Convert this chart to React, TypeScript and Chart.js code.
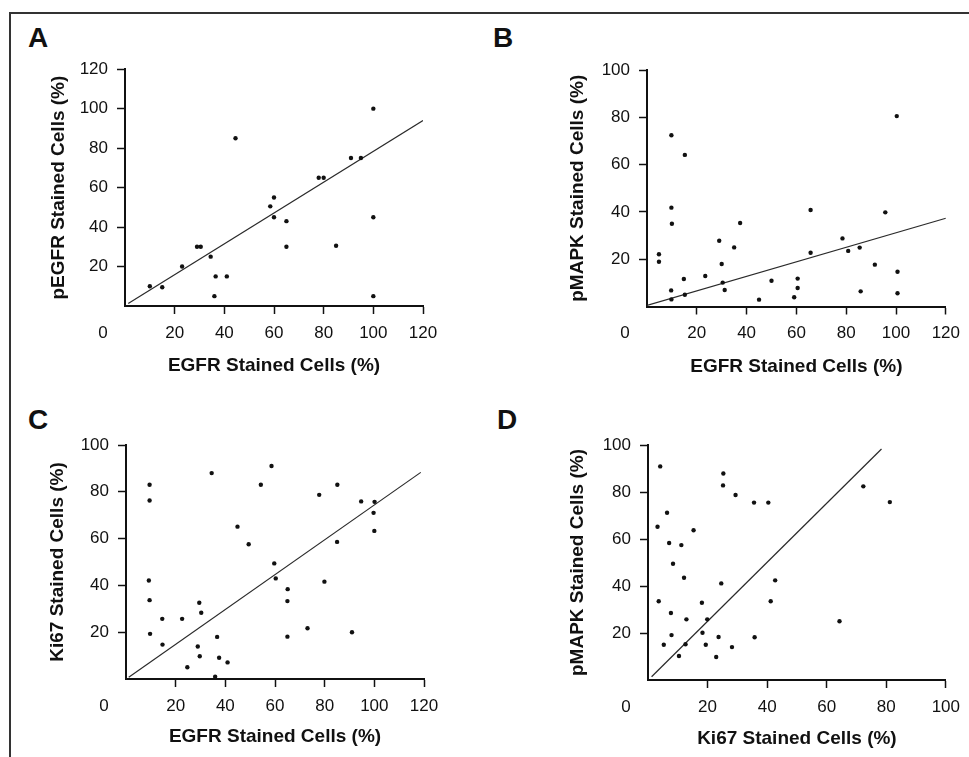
import React, { useEffect, useRef } from 'react';
import { Chart, registerables } from 'chart.js';

Chart.register(...registerables);

// ---------- DATA ----------
// Panel A: EGFR vs pEGFR
const egfrA = [10, 15, 23, 29, 30.5, 34.5, 36.5, 41, 36, 44.5, 58.5, 60, 60, 65, 65, 78, 80, 85, 91, 95, 100, 100, 100];
const pegfrA = [10, 9.5, 20, 30, 30, 25, 15, 15, 5, 85, 50.5, 55, 45, 43, 30, 65, 65, 30.5, 75, 75, 100, 45, 5];
const fitAX = [1.3, 120];
const fitAY = [1.3, 94];

// Panel B: EGFR vs pMAPK
const egfrB = [4.8, 4.8, 9.8, 9.8, 10, 9.7, 9.8, 15.2, 14.8, 15.2, 23.4, 29, 30, 30.4, 31.2, 35, 37.4, 45, 50, 59.1, 60.5, 60.5, 65.7, 65.7, 78.5, 80.8, 85.4, 85.8, 91.5, 95.7, 100.3, 100.6, 100.6];
const pmapkB = [22.1, 18.9, 72.4, 41.8, 35, 6.8, 3, 64.1, 11.6, 5, 12.9, 27.8, 18, 10.1, 7, 25, 35.3, 2.9, 10.9, 3.9, 11.8, 7.8, 40.8, 22.7, 28.8, 23.5, 24.9, 6.4, 17.7, 39.8, 80.5, 14.7, 5.6];
const fitBX = [0, 120];
const fitBY = [0.5, 37.3];

// Panel C: EGFR vs Ki67
const egfrC = [9.5, 9.5, 9.2, 9.5, 9.7, 14.6, 14.7, 22.6, 24.7, 28.9, 29.5, 29.7, 30.3, 34.5, 35.9, 36.7, 37.5, 40.9, 44.9, 49.4, 54.3, 58.6, 59.7, 60.3, 65.1, 65, 65, 73.1, 77.8, 79.9, 85.1, 85, 91, 94.7, 100.1, 99.7, 100];
const ki67C = [83, 76.3, 42.1, 33.7, 19.3, 25.7, 14.7, 25.7, 5, 13.9, 32.6, 9.7, 28.3, 88, 1, 18, 9.1, 7.1, 65.1, 57.6, 83, 91, 49.4, 43, 38.4, 33.3, 18.1, 21.7, 78.7, 41.6, 83, 58.6, 20, 75.9, 75.7, 71, 63.3];
const fitCX = [1.1, 118.7];
const fitCY = [0.7, 88.3];

// Panel D: Ki67 vs pMAPK
const ki67D = [4.1, 3.2, 3.6, 5.3, 6.4, 7.1, 7.7, 7.9, 8.4, 10.4, 11.2, 12.1, 12.6, 12.9, 15.3, 18.1, 18.3, 19.4, 19.9, 22.9, 23.7, 24.6, 25.3, 25.2, 28.2, 29.4, 35.6, 35.8, 40.4, 41.2, 42.7, 64.3, 72.3, 81.2];
const pmapkD = [90.9, 65.2, 33.5, 15, 71.2, 58.3, 28.5, 19.1, 49.5, 10.2, 57.4, 43.5, 15.2, 25.8, 63.7, 32.9, 20.1, 15, 25.8, 9.8, 18.3, 41.1, 87.9, 82.8, 14, 78.7, 75.5, 18.2, 75.5, 33.5, 42.4, 25, 82.4, 75.7];
const fitDX = [1.2, 78.4];
const fitDY = [1.4, 98.3];

const panelLetters = ['A', 'B', 'C', 'D'];
const xTitles = ['EGFR Stained Cells (%)', 'EGFR Stained Cells (%)', 'EGFR Stained Cells (%)', 'Ki67 Stained Cells (%)'];
const yTitles = ['pEGFR Stained Cells (%)', 'pMAPK Stained Cells (%)', 'Ki67 Stained Cells (%)', 'pMAPK Stained Cells (%)'];
const xMaxes = [120, 120, 120, 100];
const yMaxes = [120, 100, 100, 100];
const tickStep = 20;

// ---------- LAYOUT ----------
const FONT = "'Liberation Sans', Arial, Helvetica, sans-serif";
const TICK_SIZE = 17;
const TITLE_SIZE = 19;
const TICK_LEN = 8;
const TICK_PAD = 9;

type Layout = {
  left: number; top: number; w: number; h: number;
  plotL: number; plotR: number; plotT: number; plotB: number;
  yTitleX: number; xTitleY: number;
  letterX: number; letterY: number;
};

const layouts: Layout[] = [
  { left: 0, top: 50, w: 480, h: 335, plotL: 125, plotR: 423, plotT: 68, plotB: 306, yTitleX: 58.5, xTitleY: 365.7, letterX: 28, letterY: 28 },
  { left: 480, top: 50, w: 489, h: 335, plotL: 647, plotR: 946, plotT: 70, plotB: 306.5, yTitleX: 578, xTitleY: 366.7, letterX: 495, letterY: 28 },
  { left: 0, top: 420, w: 480, h: 337, plotL: 126, plotR: 424, plotT: 445, plotB: 679, yTitleX: 57.5, xTitleY: 736.7, letterX: 30, letterY: 410 },
  { left: 480, top: 420, w: 489, h: 337, plotL: 648, plotR: 947, plotT: 445, plotB: 680, yTitleX: 577.5, xTitleY: 739, letterX: 499, letterY: 410 },
];

const seriesX = [egfrA, egfrB, egfrC, ki67D];
const seriesY = [pegfrA, pmapkB, ki67C, pmapkD];
const fitsX = [fitAX, fitBX, fitCX, fitDX];
const fitsY = [fitAY, fitBY, fitCY, fitDY];

const zeroLabelPlugin = {
  id: 'zeroLabel',
  afterDraw(chart: any) {
    const xs = chart.scales.x;
    const ctx = chart.ctx;
    const lh = TICK_SIZE * 1.2;
    ctx.save();
    ctx.font = `${TICK_SIZE}px ${FONT}`;
    ctx.fillStyle = '#111';
    ctx.textAlign = 'center';
    ctx.textBaseline = 'middle';
    ctx.fillText('0', xs.getPixelForValue(0) - 22, chart.chartArea.bottom + TICK_LEN + TICK_PAD + lh / 2);
    ctx.restore();
  },
};

function Panel({ idx }: { idx: number }) {
  const ref = useRef<HTMLCanvasElement | null>(null);
  const L = layouts[idx];
  useEffect(() => {
    if (!ref.current) return;
    const pts = seriesX[idx].map((x, i) => ({ x, y: seriesY[idx][i] }));
    const fit = fitsX[idx].map((x, i) => ({ x, y: fitsY[idx][i] }));
    const cTop = L.plotT - L.top;
    const cBottom = L.plotB - L.top;
    const yAxisW = L.plotL - L.left;
    const xAxisH = L.h - cBottom;
    const padRight = L.left + L.w - L.plotR;
    const titleLH = TITLE_SIZE * 1.2;
    const yTitlePad = L.yTitleX - L.left - titleLH / 2;
    const xTitlePad = L.top + L.h - L.xTitleY - titleLH / 2;
    const tickColorFn = (c: any) => (c.tick && c.tick.value === 0 ? 'rgba(0,0,0,0)' : '#111');
    const chart = new Chart(ref.current, {
      type: 'scatter',
      data: {
        datasets: [
          {
            data: pts,
            pointRadius: 2.2,
            pointBackgroundColor: '#111',
            pointBorderColor: '#111',
            pointBorderWidth: 0,
            showLine: false,
          },
          {
            data: fit,
            showLine: true,
            pointRadius: 0,
            borderColor: '#2a2a2a',
            borderWidth: 1.2,
            fill: false,
          },
        ],
      },
      options: {
        animation: false,
        responsive: false,
        maintainAspectRatio: false,
        events: [],
        layout: { padding: { top: cTop, right: padRight, left: 0, bottom: 0 } },
        plugins: { legend: { display: false }, tooltip: { enabled: false } },
        scales: {
          x: {
            type: 'linear',
            min: 0,
            max: xMaxes[idx],
            ticks: {
              stepSize: tickStep,
              padding: TICK_PAD,
              color: '#111',
              font: { family: FONT, size: TICK_SIZE },
              maxRotation: 0,
              callback: (v: any) => (v === 0 ? '' : String(v)),
            },
            grid: {
              drawOnChartArea: false,
              drawTicks: true,
              tickLength: TICK_LEN,
              tickColor: tickColorFn,
              tickWidth: 1.5,
            },
            border: { display: true, color: '#111', width: 2 },
            title: {
              display: true,
              text: xTitles[idx],
              color: '#111',
              font: { family: FONT, size: TITLE_SIZE, weight: 'bold' },
              padding: { top: 0, bottom: xTitlePad },
            },
            afterFit: (s: any) => {
              s.height = xAxisH;
            },
          },
          y: {
            type: 'linear',
            min: 0,
            max: yMaxes[idx],
            ticks: {
              stepSize: tickStep,
              padding: TICK_PAD,
              color: '#111',
              font: { family: FONT, size: TICK_SIZE },
              callback: (v: any) => (v === 0 ? '' : String(v)),
            },
            grid: {
              drawOnChartArea: false,
              drawTicks: true,
              tickLength: TICK_LEN,
              tickColor: tickColorFn,
              tickWidth: 1.5,
            },
            border: { display: true, color: '#111', width: 2 },
            title: {
              display: true,
              text: yTitles[idx],
              color: '#111',
              font: { family: FONT, size: TITLE_SIZE, weight: 'bold' },
              padding: { top: yTitlePad, bottom: 0 },
            },
            afterFit: (s: any) => {
              s.width = yAxisW;
            },
          },
        },
      } as any,
      plugins: [zeroLabelPlugin],
    });
    return () => chart.destroy();
  }, [idx]);
  return (
    <canvas
      ref={ref}
      width={L.w}
      height={L.h}
      style={{ position: 'absolute', left: L.left, top: L.top, width: L.w, height: L.h }}
    />
  );
}

export default function App() {
  return (
    <div
      style={{
        position: 'absolute',
        left: 0,
        top: 0,
        width: 969,
        height: 757,
        background: '#fff',
        overflow: 'hidden',
      }}
    >
      <div
        style={{
          position: 'absolute',
          left: 9,
          top: 12,
          width: 980,
          height: 780,
          borderTop: '2px solid #333',
          borderLeft: '2px solid #333',
        }}
      />
      {layouts.map((L, i) => (
        <div
          key={'l' + i}
          style={{
            position: 'absolute',
            left: L.letterX - (i === 0 ? 0 : 2),
            top: L.letterY - 3.7,
            fontFamily: FONT,
            fontWeight: 'bold',
            fontSize: 28,
            lineHeight: '28px',
            color: '#111',
          }}
        >
          {panelLetters[i]}
        </div>
      ))}
      {layouts.map((_, i) => (
        <Panel key={'p' + i} idx={i} />
      ))}
    </div>
  );
}
